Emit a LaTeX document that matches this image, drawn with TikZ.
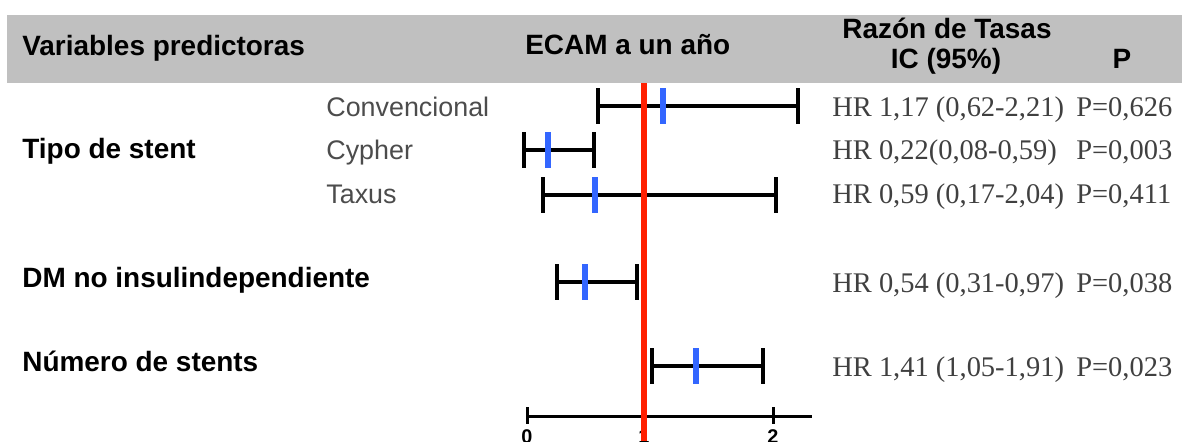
\documentclass[tikz,border=0pt]{standalone}
\usepackage{fontspec}
\usepackage{xcolor}
\newfontfamily\arialf{Liberation Sans}
\newfontfamily\timesf{Liberation Serif}
\definecolor{bandgray}{RGB}{192,192,192}
\definecolor{estblue}{RGB}{51,102,255}
\definecolor{refred}{RGB}{255,32,0}

\begin{document}
\begin{tikzpicture}[x=0.02cm,y=-0.02cm,
  hdr/.style={font=\arialf\bfseries\fontsize{15.9}{18}\selectfont,anchor=base west,inner sep=0pt},
  sub/.style={font=\arialf\fontsize{15.3}{18}\selectfont,text=black!70,anchor=base west,inner sep=0pt},
  hr/.style={font=\timesf\fontsize{16.2}{19}\selectfont,text=black!75,anchor=base west,inner sep=0pt},
  ticklab/.style={font=\arialf\bfseries\fontsize{11.3}{13}\selectfont,anchor=north,inner sep=0pt},
  ci/.style={line width=2.27pt},
  est/.style={draw=estblue,line width=3.9pt},
  refline/.style={draw=refred,line width=3.4pt},
  axisline/.style={line width=1.7pt}]
\useasboundingbox (0,0) rectangle (1182,441);

%Draw header band
\fill[bandgray] (7,15) rectangle (1182,83);
\node[hdr] (vars) at (22,55) {Variables predictoras};
\node[hdr] (ecam) at (525,54) {ECAM a un año};
\node[hdr,anchor=base] (razon) at (947,38) {Razón de Tasas};
\node[hdr,anchor=base] (ic) at (946,68) {IC (95\%)};
\node[hdr,anchor=base] (pcol) at (1122,68) {P};

%Draw row labels
\node[hdr] (tipo) at (22,158) {Tipo de stent};
\node[sub] (conv) at (326,116) {Convencional};
\node[sub] (cyph) at (326,159) {Cypher};
\node[sub] (taxus) at (326,203) {Taxus};
\node[hdr] (dm) at (22,287) {DM no insulindependiente};
\node[hdr] (nstent) at (22,371) {Número de stents};

%Draw intervals
\draw[ci] (598,88) -- (598,124) (598,106) -- (798,106) (798,88) -- (798,124);
\draw[est] (663,88) -- (663,124);
\draw[ci] (524,132) -- (524,168) (524,150) -- (594,150) (594,132) -- (594,168);
\draw[est] (548,132) -- (548,168);
\draw[ci] (543,177) -- (543,213) (543,195) -- (776,195) (776,177) -- (776,213);
\draw[est] (595,177) -- (595,213);
\draw[ci] (557,264) -- (557,300) (557,282) -- (637,282) (637,264) -- (637,300);
\draw[est] (585,264) -- (585,300);
\draw[ci] (652,348) -- (652,384) (652,366) -- (763,366) (763,348) -- (763,384);
\draw[est] (696,348) -- (696,384);

%Draw axis
\draw[axisline] (527,416) -- (812,416);
\draw[axisline] (527,407) -- (527,424) (644,407) -- (644,424) (773,407) -- (773,424);
\node[ticklab] (t0) at (527,429) {0};
\node[ticklab] (t1) at (644,429) {1};
\node[ticklab] (t2) at (773,429) {2};

%Draw reference line
\draw[refline] (644,83) -- (644,441);

%Draw estimates
\node[hr] (hr1) at (832,116) {HR 1,17 (0,62-2,21)};
\node[hr] (p1) at (1076,116) {P=0,626};
\node[hr] (hr2) at (832,159) {HR 0,22(0,08-0,59)};
\node[hr] (p2) at (1076,159) {P=0,003};
\node[hr] (hr3) at (832,203) {HR 0,59 (0,17-2,04)};
\node[hr] (p3) at (1076,203) {P=0,411};
\node[hr] (hr4) at (832,292) {HR 0,54 (0,31-0,97)};
\node[hr] (p4) at (1076,292) {P=0,038};
\node[hr] (hr5) at (832,376) {HR 1,41 (1,05-1,91)};
\node[hr] (p5) at (1076,376) {P=0,023};
\end{tikzpicture}
\end{document}
